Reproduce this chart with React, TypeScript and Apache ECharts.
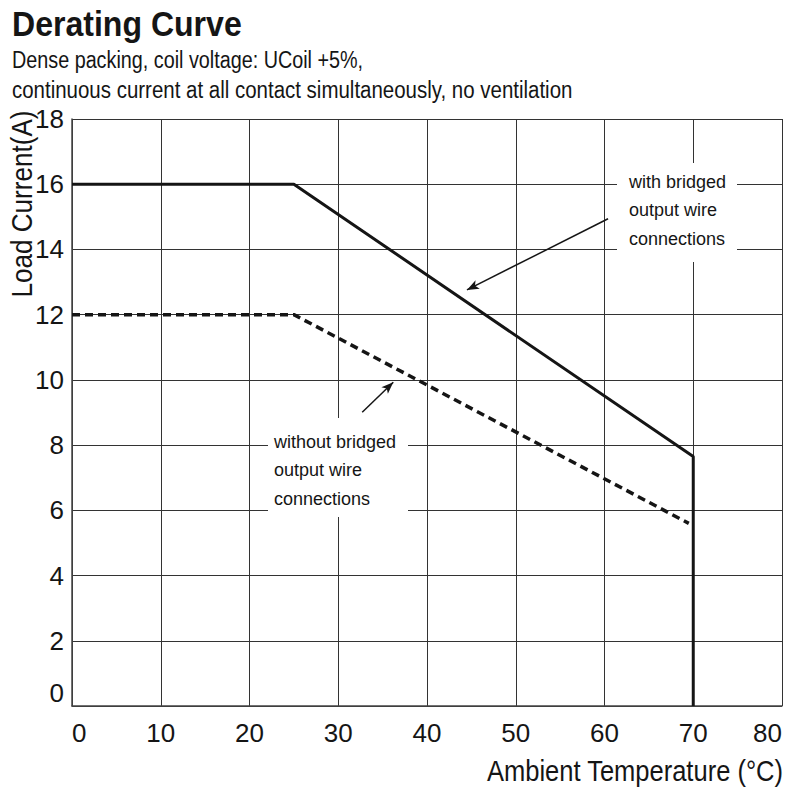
import React, { useEffect, useRef } from "react";
import * as echarts from "echarts";

const tempWith = [0, 25, 70, 70];
const currentWith = [16, 16, 7.65, 0];
const tempWithout = [0, 25, 69.5];
const currentWithout = [12, 12, 5.6];

const xTicks = { min: 0, max: 80, interval: 10 };
const yTicks = { min: 0, max: 18, interval: 2 };

const titleText = "Derating Curve";
const subtitleLines = [
  "Dense packing, coil voltage: UCoil +5%,",
  "continuous current at all contact simultaneously, no ventilation",
];
const xName = "Ambient Temperature (°C)";
const yName = "Load Current(A)";
const noteWith = ["with bridged", "output wire", "connections"];
const noteWithout = ["without bridged", "output wire", "connections"];
// arrow annotation endpoints in data units [temp, current]
const arrowWith = [[60.4, 14.94], [44.5, 12.76]];
const arrowWithout = [[32.7, 9.01], [36.2, 9.93]];

const FONT = "'Liberation Sans', Arial, sans-serif";
const INK = "#151515";

export default function App() {
  const ref = useRef<HTMLDivElement>(null);
  useEffect(() => {
    if (!ref.current) return;
    const chart = echarts.init(ref.current, undefined, { renderer: "svg" });
    const zip = (xs: number[], ys: number[]) => xs.map((x, i) => [x, ys[i]]);
    chart.setOption({
      animation: false,
      backgroundColor: "#ffffff",
      grid: { left: 72, right: 18, top: 119, bottom: 94, containLabel: false },
      xAxis: {
        type: "value",
        min: xTicks.min,
        max: xTicks.max,
        interval: xTicks.interval,
        axisLine: { show: true, lineStyle: { color: "#444", width: 1.5 } },
        axisTick: { show: false },
        splitLine: { show: true, lineStyle: { color: "#333", width: 1 } },
        axisLabel: {
          fontFamily: FONT,
          fontSize: 26,
          color: INK,
          margin: 14,
          alignMinLabel: "left",
          alignMaxLabel: "right",
        },
      },
      yAxis: {
        type: "value",
        min: yTicks.min,
        max: yTicks.max,
        interval: yTicks.interval,
        axisLine: { show: true, lineStyle: { color: "#444", width: 1.5 } },
        axisTick: { show: false },
        splitLine: { show: true, lineStyle: { color: "#333", width: 1 } },
        axisLabel: {
          fontFamily: FONT,
          fontSize: 26,
          color: INK,
          margin: 8,
          verticalAlignMinLabel: "bottom",
        },
      },
      series: [
        {
          type: "line",
          data: zip(tempWith, currentWith),
          symbol: "none",
          lineStyle: { color: INK, width: 3 },
          z: 3,
          markLine: {
            silent: true,
            symbol: ["none", "arrow"],
            symbolSize: [7, 12],
            label: { show: false },
            lineStyle: { color: INK, width: 1.5, type: "solid" },
            data: [
              [{ coord: arrowWith[0] }, { coord: arrowWith[1] }],
              [{ coord: arrowWithout[0] }, { coord: arrowWithout[1] }],
            ],
          },
        },
        {
          type: "line",
          data: zip(tempWithout, currentWithout),
          symbol: "none",
          lineStyle: { color: INK, width: 3.5, type: [8, 5] },
          z: 3,
        },
      ],
      graphic: [
        {
          type: "text",
          x: 12,
          y: 24,
          scaleX: 0.916,
          style: { text: titleText, font: `bold 35px ${FONT}`, fill: INK, textVerticalAlign: "middle" },
        },
        {
          type: "text",
          x: 12,
          y: 60,
          scaleX: 0.86,
          style: { text: subtitleLines[0], font: `23px ${FONT}`, fill: INK, textVerticalAlign: "middle" },
        },
        {
          type: "text",
          x: 12,
          y: 90,
          scaleX: 0.89,
          style: { text: subtitleLines[1], font: `23px ${FONT}`, fill: INK, textVerticalAlign: "middle" },
        },
        {
          type: "text",
          x: 22,
          y: 204,
          rotation: Math.PI / 2,
          scaleX: 0.9,
          style: { text: yName, font: `29px ${FONT}`, fill: INK, textAlign: "center", textVerticalAlign: "middle" },
        },
        {
          type: "text",
          x: 783,
          y: 771,
          scaleX: 0.88,
          style: { text: xName, font: `29px ${FONT}`, fill: INK, textAlign: "right", textVerticalAlign: "middle" },
        },
        { type: "rect", z: 1, shape: { x: 617, y: 163, width: 120, height: 99 }, style: { fill: "#fff" } },
        { type: "rect", z: 1, shape: { x: 268, y: 418, width: 140, height: 99 }, style: { fill: "#fff" } },
        {
          type: "text",
          z: 2,
          x: 629,
          y: 210,
          style: { text: noteWith.join("\n"), font: `18px ${FONT}`, lineHeight: 28.5, fill: INK, textVerticalAlign: "middle" },
        },
        {
          type: "text",
          z: 2,
          x: 274,
          y: 470,
          style: { text: noteWithout.join("\n"), font: `18px ${FONT}`, lineHeight: 28.5, fill: INK, textVerticalAlign: "middle" },
        },
      ],
    });
    return () => chart.dispose();
  }, []);
  return <div ref={ref} style={{ position: "absolute", left: 0, top: 0, width: 800, height: 800 }} />;
}
